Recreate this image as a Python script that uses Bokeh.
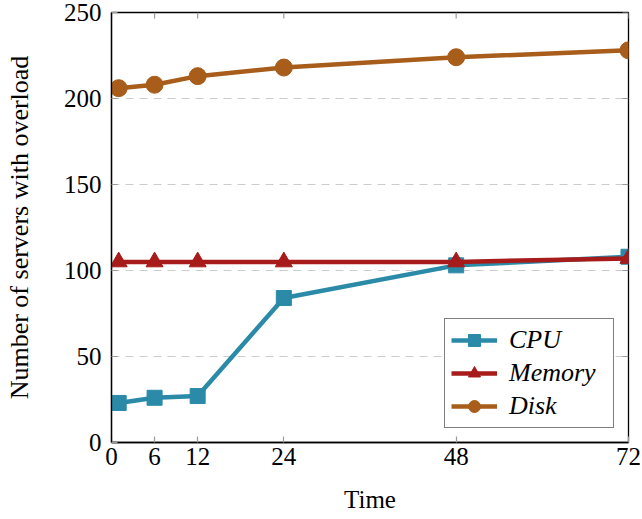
import math
from bokeh.plotting import figure
from bokeh.models import Range1d, FixedTicker, Legend, LegendItem
from bokeh.embed import file_html
from bokeh.resources import INLINE

time = [1, 6, 12, 24, 48, 72]
cpu = [23, 26, 27, 84, 103, 108]
memory = [105, 105, 105, 105, 105, 107]
disk = [206, 208, 213, 218, 224, 228]
x_ticks = [0, 6, 12, 24, 48, 72]
y_ticks = [0, 50, 100, 150, 200, 250]

FONT = "Liberation Serif"
c_cpu = "#2a8aa8"
c_mem = "#a71b1b"
c_disk = "#a85d1b"
TICK_C = "#9a9a9a"

X0, X1 = 0, 72
Y0, Y1 = 0, 250

p = figure(width=642, height=519, output_backend="svg", toolbar_location=None,
           x_range=Range1d(X0, X1), y_range=Range1d(Y0, Y1),
           min_border_left=111, min_border_right=14, min_border_top=12, min_border_bottom=77)
p.background_fill_color = "white"
p.border_fill_color = "white"
p.outline_line_color = "black"
p.outline_line_width = 1.3

p.xgrid.visible = False
p.ygrid.ticker = FixedTicker(ticks=[t for t in y_ticks if Y0 < t < Y1])
p.ygrid.grid_line_color = "#cccccc"
p.ygrid.grid_line_dash = "8 6"
p.ygrid.grid_line_width = 1.2

# inward ticks on the top and right edges of the frame
p.ray(x=x_ticks, y=[Y1] * len(x_ticks), length=6, length_units="screen",
      angle=-math.pi / 2, line_color=TICK_C, line_width=1.2)
p.ray(x=[X1] * len(y_ticks), y=y_ticks, length=6, length_units="screen",
      angle=math.pi, line_color=TICK_C, line_width=1.2)

l1 = p.line(time, cpu, line_color=c_cpu, line_width=4.5)
s1 = p.scatter(time, cpu, marker="square", size=15, fill_color=c_cpu, line_color=c_cpu)
l2 = p.line(time, memory, line_color=c_mem, line_width=4.5)
s2 = p.scatter(time, memory, marker="triangle", size=17, fill_color=c_mem, line_color=c_mem)
l3 = p.line(time, disk, line_color=c_disk, line_width=4.5)
s3 = p.scatter(time, disk, marker="circle", size=17, fill_color=c_disk, line_color=c_disk)

for ax, ticks in ((p.xaxis[0], x_ticks), (p.yaxis[0], y_ticks)):
    ax.ticker = FixedTicker(ticks=ticks)
    ax.major_label_text_font = FONT
    ax.major_label_text_font_size = "25px"
    ax.major_label_text_color = "black"
    ax.axis_label_text_font = FONT
    ax.axis_label_text_font_style = "normal"
    ax.axis_label_text_color = "black"
    ax.axis_line_color = "black"
    ax.axis_line_width = 1.3
    ax.major_tick_in = 6
    ax.major_tick_out = 0
    ax.major_tick_line_color = TICK_C
    ax.major_tick_line_width = 1.2
    ax.minor_tick_line_color = None

p.xaxis[0].axis_label = "Time"
p.xaxis[0].axis_label_text_font_size = "25px"
p.xaxis[0].major_label_standoff = 5
p.xaxis[0].axis_label_standoff = 18
p.yaxis[0].axis_label = "Number of servers with overload"
p.yaxis[0].axis_label_text_font_size = "26px"
p.yaxis[0].major_label_standoff = 10
p.yaxis[0].axis_label_standoff = 27

legend = Legend(items=[LegendItem(label="CPU", renderers=[l1, s1]),
                       LegendItem(label="Memory", renderers=[l2, s2]),
                       LegendItem(label="Disk", renderers=[l3, s3])],
                location="bottom_right")
legend.label_text_font = FONT
legend.label_text_font_size = "26px"
legend.label_text_font_style = "italic"
legend.label_text_color = "black"
legend.border_line_color = "black"
legend.border_line_width = 1.3
legend.glyph_width = 46
legend.glyph_height = 30
legend.label_height = 30
legend.label_width = 98
legend.label_standoff = 12
legend.spacing = 3
legend.padding = 6
legend.margin = 14
legend.background_fill_alpha = 1
p.add_layout(legend, "center")

open("out.html", "w").write(file_html(p, INLINE))
